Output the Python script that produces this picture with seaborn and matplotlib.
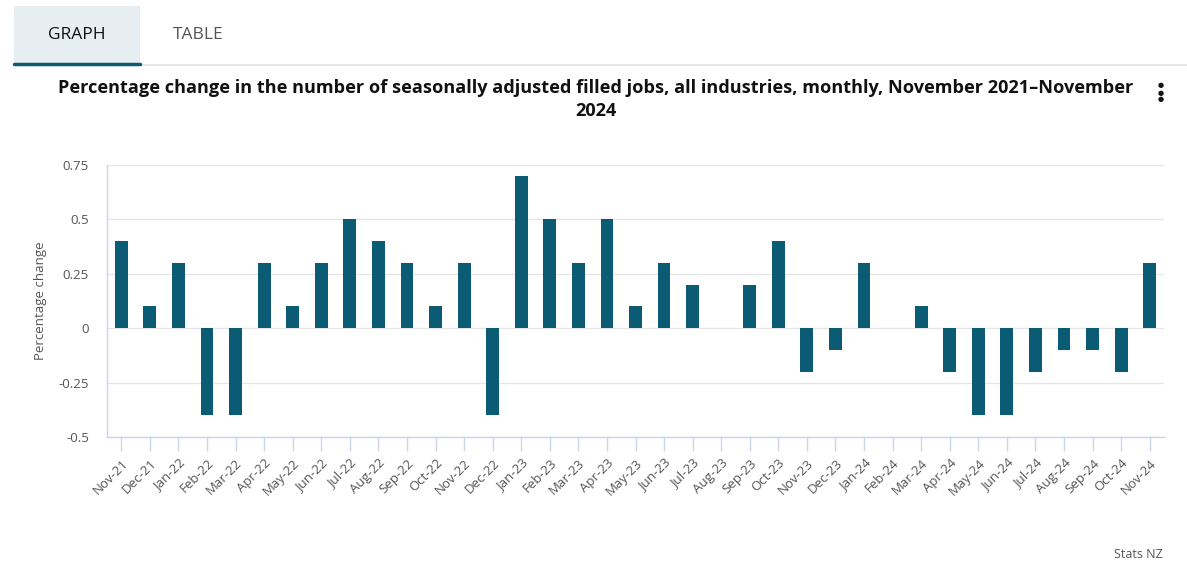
import matplotlib
matplotlib.use("Agg")
import matplotlib.pyplot as plt
import seaborn as sns
import pandas as pd
from matplotlib.patches import Rectangle
from matplotlib.lines import Line2D

months = ["Nov-21", "Dec-21", "Jan-22", "Feb-22", "Mar-22", "Apr-22", "May-22", "Jun-22",
          "Jul-22", "Aug-22", "Sep-22", "Oct-22", "Nov-22", "Dec-22", "Jan-23", "Feb-23",
          "Mar-23", "Apr-23", "May-23", "Jun-23", "Jul-23", "Aug-23", "Sep-23", "Oct-23",
          "Nov-23", "Dec-23", "Jan-24", "Feb-24", "Mar-24", "Apr-24", "May-24", "Jun-24",
          "Jul-24", "Aug-24", "Sep-24", "Oct-24", "Nov-24"]
values = [0.4, 0.1, 0.3, -0.4, -0.4, 0.3, 0.1, 0.3, 0.5, 0.4, 0.3, 0.1, 0.3, -0.4, 0.7, 0.5,
          0.3, 0.5, 0.1, 0.3, 0.2, 0.0, 0.2, 0.4, -0.2, -0.1, 0.3, 0.0, 0.1, -0.2, -0.4, -0.4,
          -0.2, -0.1, -0.1, -0.2, 0.3]
yticks = [-0.5, -0.25, 0, 0.25, 0.5, 0.75]
ytick_labels = ["-0.5", "-0.25", "0", "0.25", "0.5", "0.75"]

df = pd.DataFrame({"month": months, "value": values})

sns.set_theme(style="white")
plt.rcParams['font.family'] = ['Open Sans', 'DejaVu Sans']

W, H = 1187, 575
fig = plt.figure(figsize=(W / 100, H / 100), dpi=100)
ax = fig.add_axes([107 / W, 1 - 437 / H, (1164 - 107) / W, (437 - 165) / H])

bar_color = "#0b5b74"
sns.barplot(data=df, x="month", y="value", color=bar_color, width=0.45, ax=ax,
            saturation=1, linewidth=0)

ax.set_xlim(-0.5, len(months) - 0.5)
ax.set_ylim(-0.5, 0.75)
ax.set_yticks(yticks)
ax.set_yticklabels(ytick_labels, fontsize=9.5, color="#555555")
ax.yaxis.grid(True, color="#e6e6e6", linewidth=1)
ax.set_axisbelow(True)
ax.set_xlabel("")
ax.set_ylabel("Percentage change", fontsize=9.5, color="#555555", labelpad=8)
ax.set_xticks(range(len(months)))
ax.set_xticklabels(months, rotation=45, ha="right", rotation_mode="anchor",
                   fontsize=9.5, color="#555555")
ax.tick_params(axis="x", length=10, width=1, color="#ccd6eb", pad=4, bottom=True)
ax.tick_params(axis="y", length=0, pad=13)
for s in ["top", "right"]:
    ax.spines[s].set_visible(False)
ax.spines["left"].set_color("#ccd6eb")
ax.spines["bottom"].set_color("#ccd6eb")
ax.spines["left"].set_linewidth(1)
ax.spines["bottom"].set_linewidth(1)

# Tabs
fig.patches.append(Rectangle((14 / W, 1 - 63 / H), (140 - 14) / W, (63 - 6) / H,
                             transform=fig.transFigure, facecolor="#e6eef1", edgecolor="none"))
fig.lines.append(Line2D([14 / W, 1], [1 - 65 / H, 1 - 65 / H], transform=fig.transFigure,
                        color="#e0e0e0", linewidth=1.2))
fig.lines.append(Line2D([14 / W, 140 / W], [1 - 64 / H, 1 - 64 / H], transform=fig.transFigure,
                        color="#0b5b74", linewidth=2.5))
fig.text(77 / W, 1 - 35 / H, "GRAPH", ha="center", va="center", fontsize=12.5, color="#111111")
fig.text(198 / W, 1 - 35 / H, "TABLE", ha="center", va="center", fontsize=12.5, color="#555555")

# Title
fig.text(596 / W, 1 - 88 / H, "Percentage change in the number of seasonally adjusted filled jobs, all industries, monthly, November 2021\u2013November",
         ha="center", va="center", fontsize=13.1, fontweight="bold", color="#111111")
fig.text(596 / W, 1 - 111 / H, "2024", ha="center", va="center", fontsize=13.1,
         fontweight="bold", color="#111111")
# Menu dots
for yy in [86, 93, 100]:
    fig.text(1161 / W, 1 - yy / H, "\u25CF", ha="center", va="center", fontsize=5, color="#111111")

fig.text(1163 / W, 1 - 554 / H, "Stats NZ", ha="right", va="center", fontsize=9, color="#555555")

fig.savefig("out.png", dpi=100)
